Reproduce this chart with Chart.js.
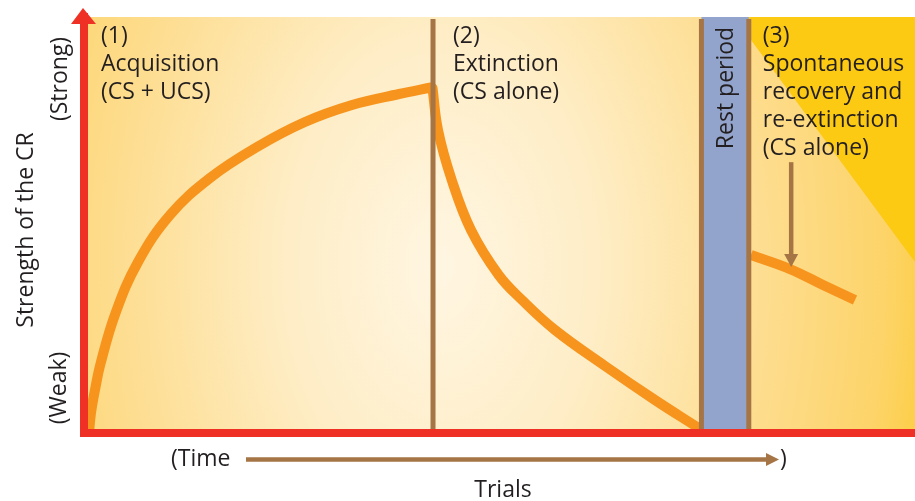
<!DOCTYPE html>
<html><head><meta charset="utf-8">
<script src="https://cdn.jsdelivr.net/npm/chart.js@4"></script>
<style>html,body{margin:0;padding:0;background:#fff}#wrap{width:915px;height:501px}</style>
</head><body><div id="wrap"><canvas id="c" width="915" height="501"></canvas></div>
<script>
// ---- data (x: trials 0..100, y: strength of CR 0..100) ----
const acqX = [0.6, 0.84, 1.32, 2.01, 3.8, 6.5, 10.35, 15.16, 20.82, 26.59, 32.25, 37.91, 41.76];
const acqY = [0, 4.81, 10.34, 16.83, 28.85, 41.11, 52.4, 61.3, 68.75, 74.76, 78.85, 81.49, 83.05];
const extX = [41.94, 42.6, 44.25, 46.57, 49.9, 52.71, 56.68, 62.7, 68.71, 73.77];
const extY = [82.93, 72.84, 60.82, 48.8, 37.98, 31.97, 24.76, 16.11, 7.93, 1.44];
const recX = [80.26, 84.96, 88.93, 92.78];
const recY = [42.79, 39.42, 35.58, 31.97];
const phaseBounds = [42.0, 74.3, 80.0]; // extinction start, rest start, rest end
const phaseLabels = [
  ["(1)", "Acquisition", "(CS + UCS)"],
  ["(2)", "Extinction", "(CS alone)"],
  ["(3)", "Spontaneous", "recovery and", "re-extinction", "(CS alone)"]
];
const restLabel = "Rest period";
const yTitle = "Strength of the CR";
const yStrong = "(Strong)";
const yWeak = "(Weak)";
const xTitle = "Trials";
const timeLeft = "(Time";
const timeRight = ")";
const recoveryArrow = { x: 85.1, yFrom: 65.1, yTo: 39.9 };

const RED = '#EE3124', ORANGE = '#F7941D', BROWN = '#A57545', BLUE = '#92A4CB', TEXT = '#231F20';
const FONT = '23px "Open Sans"';

function pts(xs, ys) { return xs.map((x, i) => ({ x: x, y: ys[i] })); }

const deco = {
  id: 'deco',
  beforeDraw(chart) {
    const { ctx, chartArea: a, scales: { x } } = chart;
    ctx.save();
    ctx.fillStyle = '#fff';
    ctx.fillRect(0, 0, chart.width, chart.height);
    ctx.beginPath();
    ctx.rect(a.left, a.top, a.right - a.left, a.bottom - a.top);
    ctx.clip();
    ctx.save();
    ctx.translate(a.left + 0.43 * (a.right - a.left), a.top + 0.6 * (a.bottom - a.top));
    ctx.scale(1, 1.5);
    const g = ctx.createRadialGradient(0, 0, 0, 0, 0, 520);
    g.addColorStop(0, '#FFF6E2');
    g.addColorStop(0.3, '#FEEDC6');
    g.addColorStop(0.62, '#FDDD90');
    g.addColorStop(0.85, '#FDD46A');
    g.addColorStop(1, '#FCCA30');
    ctx.fillStyle = g;
    ctx.fillRect(-600, -400, 1200, 800);
    ctx.restore();
    // solid yellow corner after the rest period
    const xs = x.getPixelForValue(phaseBounds[2]);
    ctx.fillStyle = '#FCC913';
    ctx.beginPath();
    ctx.moveTo(xs, a.top);
    ctx.lineTo(a.right, a.top);
    ctx.lineTo(a.right, a.top + 245);
    ctx.lineTo(xs, a.top + 20);
    ctx.closePath();
    ctx.fill();
    ctx.restore();
  },
  afterDatasetsDraw(chart) {
    const { ctx, chartArea: a, scales: { x, y } } = chart;
    ctx.save();
    const r0 = x.getPixelForValue(phaseBounds[1]);
    const r1 = x.getPixelForValue(phaseBounds[2]);
    ctx.fillStyle = BLUE;
    ctx.fillRect(r0, a.top, r1 - r0, a.bottom - a.top);
    ctx.strokeStyle = BROWN;
    ctx.lineWidth = 5;
    phaseBounds.forEach(v => {
      const px = x.getPixelForValue(v);
      ctx.beginPath();
      ctx.moveTo(px, a.top + 2);
      ctx.lineTo(px, a.bottom);
      ctx.stroke();
    });
    // recovery arrow
    const ax = x.getPixelForValue(recoveryArrow.x);
    const ay0 = y.getPixelForValue(recoveryArrow.yFrom);
    const ay1 = y.getPixelForValue(recoveryArrow.yTo);
    ctx.lineWidth = 4.5;
    ctx.beginPath();
    ctx.moveTo(ax, ay0);
    ctx.lineTo(ax, ay1 - 10);
    ctx.stroke();
    ctx.fillStyle = BROWN;
    ctx.beginPath();
    ctx.moveTo(ax - 7, ay1 - 13);
    ctx.lineTo(ax + 7, ay1 - 13);
    ctx.lineTo(ax, ay1);
    ctx.closePath();
    ctx.fill();
    ctx.restore();
  },
  afterDraw(chart) {
    const { ctx, chartArea: a, scales: { x, y } } = chart;
    ctx.save();
    // red arrow head on y axis
    ctx.fillStyle = RED;
    ctx.beginPath();
    ctx.moveTo(a.left - 1, a.top - 9);
    ctx.lineTo(a.left + 12, a.top + 7);
    ctx.lineTo(a.left - 13, a.top + 7);
    ctx.closePath();
    ctx.fill();

    ctx.fillStyle = TEXT;
    ctx.font = FONT;
    ctx.textBaseline = 'alphabetic';
    ctx.textAlign = 'left';
    const colX = [a.left + 17, x.getPixelForValue(phaseBounds[0]) + 20, x.getPixelForValue(phaseBounds[2]) + 14];
    phaseLabels.forEach((lines, i) => {
      lines.forEach((t, j) => ctx.fillText(t, colX[i], a.top + 26 + 28 * j));
    });
    // rest period (rotated)
    const rc = (x.getPixelForValue(phaseBounds[1]) + x.getPixelForValue(phaseBounds[2])) / 2;
    ctx.save();
    ctx.translate(rc + 8, a.top + 71);
    ctx.rotate(-Math.PI / 2);
    ctx.textAlign = 'center';
    ctx.fillText(restLabel, 0, 0);
    ctx.restore();
    // y titles
    const rot = (t, px, py) => {
      ctx.save(); ctx.translate(px, py); ctx.rotate(-Math.PI / 2);
      ctx.textAlign = 'center'; ctx.fillText(t, 0, 0); ctx.restore();
    };
    rot(yTitle, 33, 230);
    rot(yStrong, 67, 79);
    rot(yWeak, 66, 388);
    // time arrow
    ctx.textAlign = 'left';
    ctx.fillText(timeLeft, 171, 466);
    ctx.fillText(timeRight, 780, 466);
    ctx.strokeStyle = BROWN;
    ctx.lineWidth = 4.5;
    ctx.beginPath(); ctx.moveTo(246, 459.5); ctx.lineTo(768, 459.5); ctx.stroke();
    ctx.fillStyle = BROWN;
    ctx.beginPath(); ctx.moveTo(766, 453); ctx.lineTo(779, 459.5); ctx.lineTo(766, 466); ctx.closePath(); ctx.fill();
    ctx.fillStyle = TEXT;
    ctx.textAlign = 'center';
    ctx.fillText(xTitle, 503, 497);
    ctx.restore();
  }
};

const lineStyle = {
  showLine: true, borderColor: ORANGE, borderWidth: 10, pointRadius: 0,
  tension: 0.4, borderCapStyle: 'butt', borderJoinStyle: 'round', fill: false
};

new Chart(document.getElementById('c'), {
  type: 'scatter',
  data: {
    datasets: [
      Object.assign({ label: 'Acquisition', data: pts(acqX, acqY) }, lineStyle, { borderCapStyle: 'round' }),
      Object.assign({ label: 'Extinction', data: pts(extX, extY) }, lineStyle, { borderCapStyle: 'round' }),
      Object.assign({ label: 'Spontaneous recovery', data: pts(recX, recY) }, lineStyle)
    ]
  },
  options: {
    responsive: false, animation: false, devicePixelRatio: 1,
    layout: { padding: { top: 17, left: 0, right: 0, bottom: 0 } },
    plugins: { legend: { display: false }, tooltip: { enabled: false } },
    scales: {
      x: {
        type: 'linear', min: 0, max: 100,
        ticks: { display: false }, grid: { display: false },
        border: { display: true, color: RED, width: 8, z: 1 },
        afterFit: s => { s.height = 68; }
      },
      y: {
        type: 'linear', min: 0, max: 100,
        ticks: { display: false }, grid: { display: false },
        border: { display: true, color: RED, width: 8, z: 1 },
        afterFit: s => { s.width = 84; }
      }
    }
  },
  plugins: [deco]
});
</script>
</body></html>
